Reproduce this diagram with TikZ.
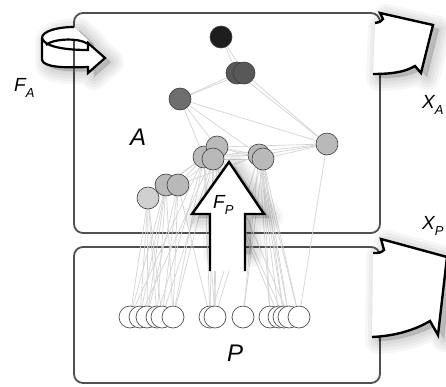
\documentclass[tikz,border=0pt]{standalone}
\usepackage{fontspec}
\setmainfont{Liberation Sans}
\usetikzlibrary{backgrounds}
\definecolor{boxgray}{HTML}{505050}
\definecolor{edgegray}{HTML}{D4D4D4}
\definecolor{nodeline}{HTML}{3C3C3C}
\definecolor{cblack}{HTML}{1E1E1E}
\definecolor{cdark}{HTML}{585858}
\definecolor{cmid}{HTML}{6E6E6E}
\definecolor{clight}{HTML}{B9B9B9}
\definecolor{clighter}{HTML}{D0D0D0}
\newcommand{\lblsub}[2]{#1\raisebox{-0.35em}{\fontsize{13}{13}\selectfont #2}}
\newcommand{\softshadow}[1]{%
  \foreach \w in {26,20,14,8,2}
    \path[fill=black, draw=black, fill opacity=0.03, draw opacity=0.035, line width=\w pt, line join=round, xshift=6pt, yshift=-4pt] #1;}
\begin{document}
\begin{tikzpicture}[x=1pt,y=-1pt,
  box/.style={draw=boxgray, line width=1.8pt, rounded corners=9pt},
  anode/.style={circle, draw=nodeline, line width=0.6pt, minimum size=22pt, inner sep=0pt},
  pnode/.style={anode, fill=white, draw=boxgray, line width=0.7pt},
  edge/.style={draw=edgegray, line width=0.7pt},
  bigarrow/.style={draw=black, line width=2.4pt, fill=white, line join=miter},
  lbl/.style={font=\fontsize{19}{19}\selectfont\itshape, inner sep=0pt, anchor=west},
  biglbl/.style={font=\fontsize{24}{24}\selectfont\itshape, inner sep=0pt, anchor=west}
]
\useasboundingbox (0,0) rectangle (446,386);

% nodes of A
\node[anode, fill=cblack] (a1) at (221,37) {};
\node[anode, fill=cdark] (a2) at (237,73) {};
\node[anode, fill=cdark] (a3) at (244,73) {};
\node[anode, fill=cmid] (a4) at (180,99) {};
\node[anode, fill=clight] (a5) at (327,144) {};
\node[anode, fill=clight] (c1) at (204,157) {};
\node[anode, fill=clight] (c3) at (217,147) {};
\node[anode, fill=clight] (c2) at (213,159) {};
\node[anode, fill=clight] (r1) at (259,155) {};
\node[anode, fill=clight] (r2) at (263,159) {};
\node[anode, fill=clight] (l1) at (166,185) {};
\node[anode, fill=clight] (l2) at (178,185) {};
\node[anode, fill=clighter] (l3) at (148,198) {};

% nodes of P
\foreach \i/\x in {1/130,2/140,3/147,4/157,5/162,6/173,7/210,8/215,9/243,10/270,11/279,12/284,13/289,14/299}
  \node[pnode] (p\i) at (\x,317) {};

\begin{scope}[on background layer]
  \fill[white] (0,0) rectangle (446,386);
  \draw[box] (74,13) rectangle (380,233);
  \draw[box] (74,247) rectangle (380,383);
  \foreach \a/\b in {a1/a2,a1/a3,a2/a4,a3/a4,a2/a5,a3/a5,a4/a5,a4/c3,a4/c1,a4/r1,
      c3/r1,c2/r2,c1/r1,c3/r2,c1/l1,c1/l2,c2/l2,c3/l1,c3/a5,r1/a5,r2/a5,c1/a5,
      l3/l1,l3/c1,l2/r1}
    \draw[edge] (\a) -- (\b);
  \foreach \a/\b in {l3/p1,l3/p2,l3/p3,l3/p4,l3/p5,
      l1/p1,l1/p2,l1/p3,l1/p4,l1/p6,
      l2/p3,l2/p5,l2/p6,l2/p7,
      c1/p1,c1/p4,c1/p6,c1/p7,c1/p8,
      c2/p5,c2/p7,c2/p8,c2/p11,c2/p12,
      c3/p2,c3/p6,c3/p8,c3/p13,
      r1/p7,r1/p9,r1/p10,r1/p11,r1/p12,r1/p13,r1/p14,
      r2/p8,r2/p9,r2/p10,r2/p12,r2/p13,r2/p14,
      a5/p14}
    \draw[edge] (\a) -- (\b);
\end{scope}

% F_P arrow
\softshadow{(210,250) -- (210,214) -- (192,214) -- (229,162) -- (264,214) -- (245,214) -- (245,250) -- cycle}
\path[bigarrow] (210,271) -- (210,214) -- (192,214) -- (229,162) -- (264,214) -- (245,214) -- (245,271);

% X_A arrow
\softshadow{(373,74) .. controls (392,74) and (405,72) .. (415,66) -- (421,73) -- (433,25) -- (380,13) -- (383,19) .. controls (380,22) .. (375,23) -- cycle}
\path[bigarrow] (373,74) .. controls (392,74) and (405,72) .. (415,66) -- (421,73) -- (433,25) -- (380,13) -- (383,19) .. controls (380,22) .. (375,23);

% X_P arrow
\softshadow{(372,337) .. controls (395,336) and (415,330) .. (430,321) -- (438,335) -- (447,257) -- (381,239) -- (384,250) .. controls (380,253) .. (373,253) -- cycle}
\path[bigarrow] (372,337) .. controls (395,336) and (415,330) .. (430,321) -- (438,335) -- (447,257) -- (381,239) -- (384,250) .. controls (380,253) .. (373,253);

% F_A rotating arrow
\softshadow{(42,38) .. controls (42,31) and (58,27) .. (74,27) -- (88,40) -- (88,43) -- (105,58) -- (88,73) -- (88,67) .. controls (62,68) and (44,67) .. (42,60) -- cycle}
\fill[white] (42,38) .. controls (42,31) and (58,27) .. (74,27) -- (88,40) -- (88,43) -- (105,58) -- (88,73) -- (88,67) .. controls (62,68) and (44,67) .. (42,60) -- cycle;
\draw[boxgray, line width=1.8pt] (74,41) -- (74,72);
\draw[black, line width=2.2pt, line join=miter] (74,27) .. controls (58,27) and (42,31) .. (42,38) -- (42,60) .. controls (44,67) and (62,68) .. (88,67) -- (88,73) -- (105,58) -- (88,43) -- (88,50) .. controls (62,50) and (44,46) .. (42,38);
\draw[black, line width=2.2pt] (46,45) .. controls (52,39) and (78,37) .. (88,44);

% labels
\node[lbl] (fa) at (14,88) {\lblsub{F}{A}};
\node[lbl] (xa) at (422,105) {\lblsub{X}{A}};
\node[lbl] (xp) at (422,226) {\lblsub{X}{P}};
\node[lbl] (fp) at (213,205) {\lblsub{F}{P}};
\node[biglbl] (la) at (130,137) {A};
\node[biglbl] (lp) at (227,353) {P};
\end{tikzpicture}
\end{document}
